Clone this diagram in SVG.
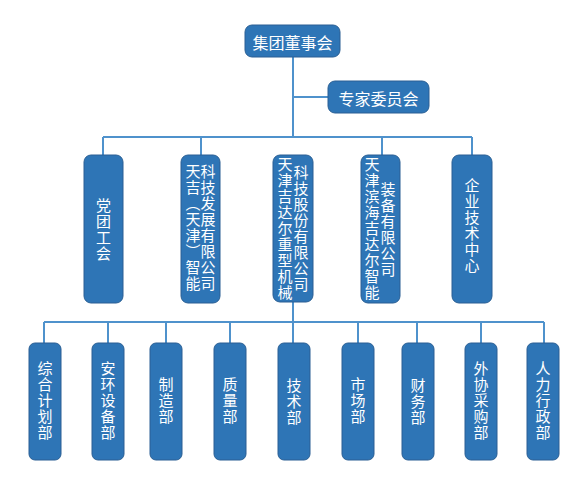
<svg xmlns="http://www.w3.org/2000/svg" width="584" height="500" viewBox="0 0 584 500">
<style>
.box{fill:#2E75B6;stroke:#2A5F94;stroke-width:1}
.ln{stroke:#4F92CC;stroke-width:2;fill:none}
.t{fill:#FFFFFF;font-family:"Noto Sans CJK SC","Noto Sans",sans-serif;font-size:15px;text-anchor:middle;dominant-baseline:central}
.th{font-size:16px}
.v{writing-mode:vertical-rl;letter-spacing:1px}
</style>
<rect width="584" height="500" fill="#FFFFFF"/>
<g id="connectors">
<path class="ln" d="M293,57V137M293,97H328M103,137H472M103,137V155M201,137V155M382,137V155M472,137V155M293,302V343M44,322H544M44,322V343M108,322V343M166,322V343M230,322V343M358,322V343M417,322V343M481,322V343M544,322V343"/>
</g>
<g id="n-board">
<rect class="box" x="245" y="25" width="95" height="32" rx="7"/>
<text class="t th" x="292.5" y="42">集团董事会</text>
</g>
<g id="n-experts">
<rect class="box" x="328" y="81" width="101" height="32" rx="7"/>
<text class="t th" x="378.5" y="98">专家委员会</text>
</g>
<g id="n-union">
<rect class="box" x="84" y="155" width="39" height="148" rx="7"/>
<text class="t v" x="103.5" y="230">党团工会</text>
</g>
<g id="n-tianji">
<rect class="box" x="181" y="155" width="39" height="148" rx="7"/>
<text class="t v" x="193" y="228">天吉︵天津︶智能</text>
<text class="t v" x="208" y="228">科技发展有限公司</text>
</g>
<g id="n-heavy">
<rect class="box" x="273" y="155" width="40" height="147" rx="7"/>
<text class="t v" x="285" y="229">天津吉达尔重型机械</text>
<text class="t v" x="301" y="229">科技股份有限公司</text>
</g>
<g id="n-binhai">
<rect class="box" x="361" y="155" width="39" height="148" rx="7"/>
<text class="t v" x="372" y="229">天津滨海吉达尔智能</text>
<text class="t v" x="388" y="230">装备有限公司</text>
</g>
<g id="n-techcenter">
<rect class="box" x="452" y="155" width="40" height="148" rx="7"/>
<text class="t v" x="472" y="226">企业技术中心</text>
</g>
<g id="d-plan">
<rect class="box" x="29" y="343" width="32" height="117" rx="6"/>
<text class="t v" x="45" y="401">综合计划部</text>
</g>
<g id="d-safety">
<rect class="box" x="92" y="343" width="32" height="117" rx="6"/>
<text class="t v" x="108" y="401">安环设备部</text>
</g>
<g id="d-mfg">
<rect class="box" x="150" y="343" width="32" height="117" rx="6"/>
<text class="t v" x="166" y="401">制造部</text>
</g>
<g id="d-quality">
<rect class="box" x="214" y="343" width="32" height="117" rx="6"/>
<text class="t v" x="230" y="401">质量部</text>
</g>
<g id="d-tech">
<rect class="box" x="278" y="343" width="32" height="117" rx="6"/>
<text class="t v" x="294" y="402">技术部</text>
</g>
<g id="d-market">
<rect class="box" x="342" y="343" width="32" height="117" rx="6"/>
<text class="t v" x="358" y="401">市场部</text>
</g>
<g id="d-finance">
<rect class="box" x="402" y="343" width="32" height="117" rx="6"/>
<text class="t v" x="418" y="402">财务部</text>
</g>
<g id="d-purchase">
<rect class="box" x="465" y="343" width="32" height="117" rx="6"/>
<text class="t v" x="481" y="401">外协采购部</text>
</g>
<g id="d-hr">
<rect class="box" x="527" y="343" width="32" height="117" rx="6"/>
<text class="t v" x="543" y="401">人力行政部</text>
</g>
</svg>
